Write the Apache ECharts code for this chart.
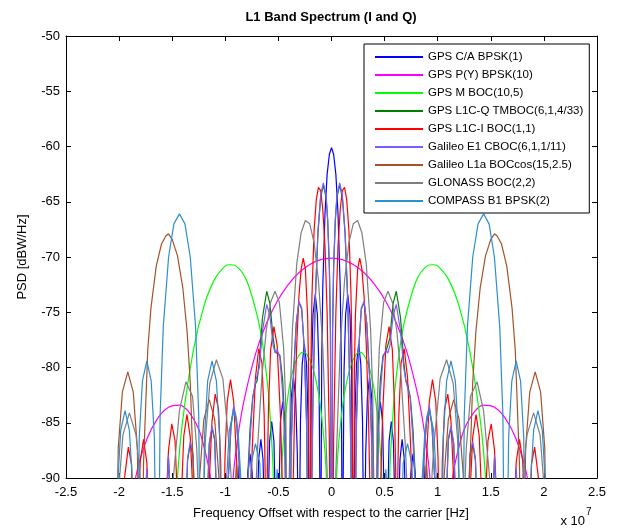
<!DOCTYPE html>
<html>
<head>
<meta charset="utf-8">
<script src="https://cdn.jsdelivr.net/npm/echarts@6/dist/echarts.min.js"></script>
<style>
html,body{margin:0;padding:0;background:#fff;}
#chart{width:617px;height:530px;}
</style>
</head>
<body>
<div id="chart"></div>
<script>
// Frequency offsets in MHz, PSD in dBW/Hz
const seriesNames = [
  'GPS C/A BPSK(1)',
  'GPS P(Y) BPSK(10)',
  'GPS M BOC(10,5)',
  'GPS L1C-Q TMBOC(6,1,4/33)',
  'GPS L1C-I BOC(1,1)',
  'Galileo E1 CBOC(6,1,1/11)',
  'Galileo L1a BOCcos(15,2.5)',
  'GLONASS BOC(2,2)',
  'COMPASS B1 BPSK(2)'
];

const gpsCA = [
  [-10.23,-100],[-9.72,-89.9],[-9.21,-100],[-8.7,-88.9],[-8.18,-100],[-7.88,-89.6],[-7.67,-87.8],[-7.47,-89.6],[-7.16,-100],
  [-6.86,-88.3],[-6.65,-86.5],[-6.45,-88.3],[-6.14,-100],[-5.83,-86.7],[-5.63,-84.9],[-5.42,-86.7],[-5.12,-100],
  [-4.81,-84.9],[-4.6,-83.1],[-4.4,-84.9],[-4.09,-100],[-3.94,-87.8],[-3.79,-82.7],[-3.58,-80.9],[-3.38,-82.7],[-3.22,-87.8],[-3.07,-100],
  [-2.92,-84.8],[-2.76,-79.7],[-2.56,-77.9],[-2.35,-79.7],[-2.2,-84.8],[-2.05,-100],
  [-1.89,-80.3],[-1.74,-75.2],[-1.53,-73.4],[-1.33,-75.2],[-1.18,-80.3],[-1.02,-100],
  [-0.92,-79.3],[-0.82,-72.7],[-0.61,-66.0],[-0.41,-62.5],[-0.2,-60.7],[0,-60.1],
  [0.2,-60.7],[0.41,-62.5],[0.61,-66.0],[0.82,-72.7],[0.92,-79.3],[1.02,-100],
  [1.18,-80.3],[1.33,-75.2],[1.53,-73.4],[1.74,-75.2],[1.89,-80.3],[2.05,-100],
  [2.2,-84.8],[2.35,-79.7],[2.56,-77.9],[2.76,-79.7],[2.92,-84.8],[3.07,-100],
  [3.22,-87.8],[3.38,-82.7],[3.58,-80.9],[3.79,-82.7],[3.94,-87.8],[4.09,-100],
  [4.4,-84.9],[4.6,-83.1],[4.81,-84.9],[5.12,-100],[5.42,-86.7],[5.63,-84.9],[5.83,-86.7],[6.14,-100],
  [6.45,-88.3],[6.65,-86.5],[6.86,-88.3],[7.16,-100],[7.47,-89.6],[7.67,-87.8],[7.88,-89.6],[8.18,-100],
  [8.7,-88.9],[9.21,-100],[9.72,-89.9],[10.23,-100]
];

const gpsPY = [
  [-20.46,-110],[-19.44,-95.8],[-18.41,-89.8],[-17.39,-86.5],[-16.37,-84.6],[-15.35,-83.6],[-14.32,-83.4],[-13.3,-84.2],
  [-12.28,-86.2],[-11.25,-91.1],[-10.23,-110],[-9.7,-95.7],[-9.2,-89.3],[-8.7,-85.5],[-8.18,-82.72],[-7.16,-78.79],
  [-6.14,-76.04],[-5.12,-74.02],[-4.09,-72.52],[-3.07,-71.43],[-2.05,-70.68],[-1.02,-70.24],[0,-70.1],
  [1.02,-70.24],[2.05,-70.68],[3.07,-71.43],[4.09,-72.52],[5.12,-74.02],[6.14,-76.04],[7.16,-78.79],[8.18,-82.72],
  [8.7,-85.5],[9.2,-89.3],[9.7,-95.7],[10.23,-110],[11.25,-91.1],[12.28,-86.2],[13.3,-84.2],[14.32,-83.4],
  [15.35,-83.6],[16.37,-84.6],[17.39,-86.5],[18.41,-89.8],[19.44,-95.8],[20.46,-110]
];

const gpsM = [
  [-15.35,-110],[-15,-99],[-14.5,-89.9],[-14,-84.7],[-13,-78.4],[-12,-74.4],[-11,-72.0],[-10,-70.8],[-9.6,-70.7],
  [-9,-70.8],[-8,-72.1],[-7,-75.3],[-6.5,-77.8],[-6,-81.7],[-5.8,-84.1],[-5.5,-89.3],[-5.12,-110],
  [-4.8,-91.6],[-4.5,-86.2],[-4,-81.9],[-3.5,-79.8],[-3,-78.8],[-2.6,-78.6],[-2,-79.4],[-1.5,-81.0],[-1,-83.8],[-0.5,-89.5],
  [0,-110],
  [0.5,-89.5],[1,-83.8],[1.5,-81.0],[2,-79.4],[2.6,-78.6],[3,-78.8],[3.5,-79.8],[4,-81.9],[4.5,-86.2],[4.8,-91.6],
  [5.12,-110],[5.5,-89.3],[5.8,-84.1],[6,-81.7],[6.5,-77.8],[7,-75.3],[8,-72.1],[9,-70.8],[9.6,-70.7],[10,-70.8],
  [11,-72.0],[12,-74.4],[13,-78.4],[14,-84.7],[14.5,-89.9],[15,-99],[15.35,-110]
];

const gpsL1CQ = [
  [-18.41,-110],[-17.39,-89.3],[-16.37,-110],[-15.35,-88.2],[-14.32,-110],[-13.55,-88.4],[-13.3,-86.9],[-13.04,-88.0],[-12.28,-110],
  [-11.51,-87.0],[-11.25,-85.5],[-11.0,-86.6],[-10.23,-110],[-9.72,-90.2],[-9.46,-85.3],[-9.21,-83.7],[-8.95,-84.8],[-8.7,-88.3],[-8.18,-110],
  [-7.9,-90.1],[-7.67,-85.6],[-7.42,-82.7],[-7.16,-81.5],[-7.0,-81.2],[-6.8,-79.4],[-6.5,-75.5],[-6.1,-73.1],[-5.8,-74.2],[-5.5,-77.3],
  [-5.3,-78.6],[-5.12,-78.6],[-4.86,-78.9],[-4.6,-81.1],[-4.4,-85.1],[-4.09,-110],
  [-3.79,-86.6],[-3.58,-80.6],[-3.32,-76.05],[-3.07,-74.1],[-2.81,-74.7],[-2.56,-78.3],[-2.35,-84.6],[-2.05,-110],
  [-1.89,-93.1],[-1.74,-82.4],[-1.53,-74.0],[-1.28,-67.9],[-1.02,-64.6],[-0.77,-63.5],[-0.51,-64.6],[-0.36,-66.7],[-0.2,-71.0],[-0.1,-76.8],
  [0,-110],
  [0.1,-76.8],[0.2,-71.0],[0.36,-66.7],[0.51,-64.6],[0.77,-63.5],[1.02,-64.6],[1.28,-67.9],[1.53,-74.0],[1.74,-82.4],[1.89,-93.1],
  [2.05,-110],[2.35,-84.6],[2.56,-78.3],[2.81,-74.7],[3.07,-74.1],[3.32,-76.05],[3.58,-80.6],[3.79,-86.6],[4.09,-110],
  [4.4,-85.1],[4.6,-81.1],[4.86,-78.9],[5.12,-78.6],[5.3,-78.6],[5.5,-77.3],[5.8,-74.2],[6.1,-73.1],[6.5,-75.5],[6.8,-79.4],
  [7.0,-81.2],[7.16,-81.5],[7.42,-82.7],[7.67,-85.6],[7.9,-90.1],[8.18,-110],
  [8.7,-88.3],[8.95,-84.8],[9.21,-83.7],[9.46,-85.3],[9.72,-90.2],[10.23,-110],
  [11.0,-86.6],[11.25,-85.5],[11.51,-87.0],[12.28,-110],[13.04,-88.0],[13.3,-86.9],[13.55,-88.4],[14.32,-110],
  [15.35,-88.2],[16.37,-110],[17.39,-89.3],[18.41,-110]
];

const gpsL1CI = [
  [-20.46,-110],[-20.0,-95],[-19.44,-89.6],[-19.13,-87.2],[-18.82,-88.8],[-18.41,-110],
  [-18.2,-93],[-18.0,-88.4],[-17.7,-86.5],[-17.39,-88.6],[-16.37,-110],
  [-15.65,-94],[-15.35,-87.5],[-15.04,-85.1],[-14.73,-86.65],[-14.53,-91.5],[-14.32,-110],
  [-14.12,-91.2],[-13.91,-86.2],[-13.61,-84.25],[-13.3,-86.3],[-12.99,-92.4],[-12.28,-110],
  [-11.56,-91.3],[-11.25,-84.85],[-10.95,-82.4],[-10.64,-83.8],[-10.43,-88.6],[-10.23,-110],
  [-10.13,-94],[-10.03,-88.2],[-9.82,-83.1],[-9.51,-81.1],[-9.21,-83.1],[-8.9,-89.1],[-8.18,-110],
  [-7.67,-95],[-7.47,-87.5],[-7.16,-80.9],[-6.85,-78.3],[-6.55,-79.6],[-6.34,-84.3],[-6.24,-89.9],[-6.14,-110],
  [-6.04,-89.3],[-5.93,-83.5],[-5.73,-78.4],[-5.42,-76.3],[-5.12,-78.0],[-4.81,-84.3],[-4.6,-91.5],[-4.09,-110],
  [-3.68,-94],[-3.48,-84.2],[-3.27,-77.8],[-3.07,-73.6],[-2.86,-71.1],[-2.66,-70.1],[-2.46,-71.1],[-2.25,-75.3],[-2.15,-80.6],[-2.05,-110],
  [-1.94,-79.7],[-1.84,-73.5],[-1.64,-67.6],[-1.43,-64.8],[-1.23,-63.7],[-1.02,-64.0],[-0.82,-65.7],[-0.61,-69.1],[-0.41,-75.1],[-0.205,-86.4],
  [0,-110],
  [0.205,-86.4],[0.41,-75.1],[0.61,-69.1],[0.82,-65.7],[1.02,-64.0],[1.23,-63.7],[1.43,-64.8],[1.64,-67.6],[1.84,-73.5],[1.94,-79.7],[2.05,-110],
  [2.15,-80.6],[2.25,-75.3],[2.46,-71.1],[2.66,-70.1],[2.86,-71.1],[3.07,-73.6],[3.27,-77.8],[3.48,-84.2],[3.68,-94],[4.09,-110],
  [4.6,-91.5],[4.81,-84.3],[5.12,-78.0],[5.42,-76.3],[5.73,-78.4],[5.93,-83.5],[6.04,-89.3],[6.14,-110],
  [6.24,-89.9],[6.34,-84.3],[6.55,-79.6],[6.85,-78.3],[7.16,-80.9],[7.47,-87.5],[7.67,-95],[8.18,-110],
  [8.9,-89.1],[9.21,-83.1],[9.51,-81.1],[9.82,-83.1],[10.03,-88.2],[10.13,-94],[10.23,-110],
  [10.43,-88.6],[10.64,-83.8],[10.95,-82.4],[11.25,-84.85],[11.56,-91.3],[12.28,-110],
  [12.99,-92.4],[13.3,-86.3],[13.61,-84.25],[13.91,-86.2],[14.12,-91.2],[14.32,-110],
  [14.53,-91.5],[14.73,-86.65],[15.04,-85.1],[15.35,-87.5],[15.65,-94],[16.37,-110],
  [17.39,-88.6],[17.7,-86.5],[18.0,-88.4],[18.2,-93],[18.41,-110],
  [18.82,-88.8],[19.13,-87.2],[19.44,-89.6],[20.0,-95],[20.46,-110]
];

const galE1 = [
  [-18.41,-110],[-17.39,-89.1],[-16.37,-110],[-15.35,-88.0],[-14.32,-110],[-13.55,-88.2],[-13.3,-86.7],[-13.04,-87.8],[-12.28,-110],
  [-11.51,-86.8],[-11.25,-85.3],[-11.0,-86.4],[-10.23,-110],[-9.72,-90],[-9.46,-85.1],[-9.21,-83.5],[-8.95,-84.6],[-8.7,-88.6],[-8.18,-110],
  [-7.9,-91],[-7.67,-86.6],[-7.42,-82.8],[-7.16,-81.3],[-7.0,-81.2],[-6.8,-80.0],[-6.5,-76.7],[-6.1,-74.3],[-5.8,-75.3],[-5.5,-78.0],
  [-5.3,-78.7],[-5.12,-78.4],[-4.86,-79.1],[-4.6,-82.3],[-4.4,-87.0],[-4.09,-110],
  [-3.79,-87.3],[-3.58,-80.9],[-3.32,-76.0],[-3.07,-74.0],[-2.81,-74.6],[-2.56,-78.4],[-2.35,-85.2],[-2.05,-110],
  [-1.89,-93.5],[-1.74,-82.6],[-1.53,-73.9],[-1.28,-67.75],[-1.02,-64.4],[-0.77,-63.3],[-0.51,-64.4],[-0.36,-66.6],[-0.2,-70.85],[-0.1,-76.7],
  [0,-110],
  [0.1,-76.7],[0.2,-70.85],[0.36,-66.6],[0.51,-64.4],[0.77,-63.3],[1.02,-64.4],[1.28,-67.75],[1.53,-73.9],[1.74,-82.6],[1.89,-93.5],
  [2.05,-110],[2.35,-85.2],[2.56,-78.4],[2.81,-74.6],[3.07,-74.0],[3.32,-76.0],[3.58,-80.9],[3.79,-87.3],[4.09,-110],
  [4.4,-87.0],[4.6,-82.3],[4.86,-79.1],[5.12,-78.4],[5.3,-78.7],[5.5,-78.0],[5.8,-75.3],[6.1,-74.3],[6.5,-76.7],[6.8,-80.0],
  [7.0,-81.2],[7.16,-81.3],[7.42,-82.8],[7.67,-86.6],[7.9,-91],[8.18,-110],
  [8.7,-88.6],[8.95,-84.6],[9.21,-83.5],[9.46,-85.1],[9.72,-90],[10.23,-110],
  [11.0,-86.4],[11.25,-85.3],[11.51,-86.8],[12.28,-110],[13.04,-87.8],[13.3,-86.7],[13.55,-88.2],[14.32,-110],
  [15.35,-88.0],[16.37,-110],[17.39,-89.1],[18.41,-110]
];

const galL1a = [
  [-20.46,-110],[-20.08,-87.3],[-19.69,-82.2],[-19.18,-80.4],[-18.67,-82.2],[-18.28,-87.3],[-17.9,-110],
  [-17.7,-88.7],[-17.3,-78.4],[-17.0,-74.6],[-16.5,-70.8],[-16.0,-68.8],[-15.6,-68.1],[-15.35,-67.9],[-15.0,-68.4],
  [-14.5,-69.9],[-14.0,-72.8],[-13.6,-76.7],[-13.3,-81.3],[-13.0,-89.8],[-12.79,-110],
  [-12.41,-89.8],[-12.02,-84.7],[-11.51,-82.9],[-11.0,-84.7],[-10.61,-89.8],[-10.23,-110],
  [-8.95,-88.7],[-7.67,-110],
  [7.67,-110],[8.95,-88.7],[10.23,-110],
  [10.61,-89.8],[11.0,-84.7],[11.51,-82.9],[12.02,-84.7],[12.41,-89.8],[12.79,-110],
  [13.0,-89.8],[13.3,-81.3],[13.6,-76.7],[14.0,-72.8],[14.5,-69.9],[15.0,-68.4],[15.35,-67.9],[15.6,-68.1],
  [16.0,-68.8],[16.5,-70.8],[17.0,-74.6],[17.3,-78.4],[17.7,-88.7],[17.9,-110],
  [18.28,-87.3],[18.67,-82.2],[19.18,-80.4],[19.69,-82.2],[20.08,-87.3],[20.46,-110]
];

const glonass = [
  [-20.46,-110],[-20.05,-91.2],[-19.64,-86.1],[-19.03,-84.1],[-18.41,-86.1],[-17.8,-92.1],[-16.37,-110],
  [-14.94,-90.5],[-14.32,-83.9],[-13.71,-81.3],[-13.09,-82.6],[-12.69,-87.3],[-12.48,-92.9],[-12.28,-110],
  [-12.07,-92.3],[-11.87,-86.5],[-11.46,-81.45],[-10.84,-79.3],[-10.23,-81.0],[-9.62,-87.3],[-8.18,-110],
  [-7.37,-97],[-6.96,-87.2],[-6.55,-80.8],[-6.14,-76.6],[-5.73,-74.1],[-5.32,-73.1],[-4.91,-74.1],[-4.5,-78.3],[-4.3,-83.6],[-4.09,-110],
  [-3.89,-82.7],[-3.68,-76.5],[-3.27,-70.6],[-2.86,-67.8],[-2.46,-66.7],[-2.05,-67.0],[-1.64,-68.7],[-1.23,-72.1],[-0.82,-78.1],[-0.41,-89.4],
  [0,-110],
  [0.41,-89.4],[0.82,-78.1],[1.23,-72.1],[1.64,-68.7],[2.05,-67.0],[2.46,-66.7],[2.86,-67.8],[3.27,-70.6],[3.68,-76.5],[3.89,-82.7],[4.09,-110],
  [4.3,-83.6],[4.5,-78.3],[4.91,-74.1],[5.32,-73.1],[5.73,-74.1],[6.14,-76.6],[6.55,-80.8],[6.96,-87.2],[7.37,-97],[8.18,-110],
  [9.62,-87.3],[10.23,-81.0],[10.84,-79.3],[11.46,-81.45],[11.87,-86.5],[12.07,-92.3],[12.28,-110],
  [12.48,-92.9],[12.69,-87.3],[13.09,-82.6],[13.71,-81.3],[14.32,-83.9],[14.94,-90.5],[16.37,-110],
  [17.8,-92.1],[18.41,-86.1],[19.03,-84.1],[19.64,-86.1],[20.05,-91.2],[20.46,-110]
];

const compass = [
  [-20.46,-110],[-20.15,-90.8],[-19.85,-85.7],[-19.44,-83.9],[-19.03,-85.7],[-18.72,-90.8],[-18.41,-110],
  [-18.1,-86.3],[-17.8,-81.2],[-17.39,-79.4],[-16.98,-81.2],[-16.68,-86.3],[-16.37,-110],
  [-16.14,-84.4],[-15.84,-76.3],[-15.34,-70.0],[-14.84,-67.0],[-14.32,-66.1],[-13.8,-67.0],[-13.3,-70.0],[-12.8,-76.3],[-12.5,-84.4],[-12.27,-110],
  [-11.96,-86.3],[-11.66,-81.2],[-11.25,-79.4],[-10.84,-81.2],[-10.53,-86.3],[-10.23,-110],
  [-9.92,-90.8],[-9.62,-85.7],[-9.21,-83.9],[-8.8,-85.7],[-8.49,-90.8],[-8.18,-110],
  [-7.57,-88.7],[-7.16,-86.9],[-6.75,-88.7],[-6.14,-110],[-5.12,-89.2],[-4.09,-110],
  [0,-110],
  [4.09,-110],[5.12,-89.2],[6.14,-110],[6.75,-88.7],[7.16,-86.9],[7.57,-88.7],[8.18,-110],
  [8.49,-90.8],[8.8,-85.7],[9.21,-83.9],[9.62,-85.7],[9.92,-90.8],[10.23,-110],
  [10.53,-86.3],[10.84,-81.2],[11.25,-79.4],[11.66,-81.2],[11.96,-86.3],[12.27,-110],
  [12.5,-84.4],[12.8,-76.3],[13.3,-70.0],[13.8,-67.0],[14.32,-66.1],[14.84,-67.0],[15.34,-70.0],[15.84,-76.3],[16.14,-84.4],[16.37,-110],
  [16.68,-86.3],[16.98,-81.2],[17.39,-79.4],[17.8,-81.2],[18.1,-86.3],[18.41,-110],
  [18.72,-90.8],[19.03,-85.7],[19.44,-83.9],[19.85,-85.7],[20.15,-90.8],[20.46,-110]
];

const seriesData = [gpsCA, gpsPY, gpsM, gpsL1CQ, gpsL1CI, galE1, galL1a, glonass, compass];
const seriesColors = ['#0000FF','#FF00FF','#00FF00','#008000','#FF0000','#7B5CFF','#A5522A','#7F7F7F','#2B8FD0'];
const seriesSmooth = [false, 0.3, 0.3, false, false, false, false, false, false];

const FONT = '"Liberation Sans", Arial, Helvetica, sans-serif';

const chart = echarts.init(document.getElementById('chart'), null, {renderer:'canvas'});

const axisCommon = {
  axisLine:{show:true, onZero:false, lineStyle:{color:'#000', width:1}},
  axisTick:{show:true, inside:true, length:5, lineStyle:{color:'#000', width:1}},
  splitLine:{show:false}
};

chart.setOption({
  animation:false,
  backgroundColor:'#fff',
  grid:{left:66, right:20, top:36, bottom:52, containLabel:false},
  xAxis:[
    Object.assign({type:'value', position:'bottom', min:-25, max:25, interval:5,
      axisLabel:{color:'#000', fontSize:13, fontFamily:FONT, margin:8, formatter:v => String(v/10)}}, axisCommon),
    Object.assign({type:'value', position:'top', min:-25, max:25, interval:5,
      axisLabel:{show:false}}, axisCommon)
  ],
  yAxis:[
    Object.assign({type:'value', position:'left', min:-90, max:-50, interval:5,
      axisLabel:{color:'#000', fontSize:13, fontFamily:FONT, margin:6}}, axisCommon),
    Object.assign({type:'value', position:'right', min:-90, max:-50, interval:5,
      axisLabel:{show:false}}, axisCommon)
  ],
  legend:{
    orient:'vertical', left:364, top:44,
    padding:[7,6,6,11],
    backgroundColor:'#fff', borderColor:'#000', borderWidth:1,
    itemWidth:48, itemHeight:2, itemGap:6, icon:'rect',
    selectedMode:false,
    textStyle:{fontSize:11.5, lineHeight:12, fontFamily:FONT, color:'#000'},
    data:seriesNames
  },
  graphic:[
    {type:'text', x:331, y:17, style:{text:'L1 Band Spectrum (I and Q)', font:'bold 13px ' + FONT, fill:'#000', align:'center', verticalAlign:'middle'}},
    {type:'text', x:331, y:513, style:{text:'Frequency Offset with respect to the carrier [Hz]', font:'13px ' + FONT, fill:'#000', align:'center', verticalAlign:'middle'}},
    {type:'text', x:22, y:257, rotation:Math.PI/2, style:{text:'PSD [dBW/Hz]', font:'13px ' + FONT, fill:'#000', align:'center', verticalAlign:'middle'}},
    {type:'text', x:585, y:521, style:{text:'x 10', font:'13px ' + FONT, fill:'#000', align:'right', verticalAlign:'middle'}},
    {type:'text', x:586, y:512, style:{text:'7', font:'10px ' + FONT, fill:'#000', align:'left', verticalAlign:'middle'}}
  ],
  series: seriesNames.map((name, i) => ({
    name: name,
    type:'line',
    data: seriesData[i],
    xAxisIndex:0, yAxisIndex:0,
    showSymbol:false, symbol:'none',
    smooth: seriesSmooth[i],
    clip:true,
    lineStyle:{color:seriesColors[i], width:1.2},
    itemStyle:{color:seriesColors[i]},
    emphasis:{disabled:true}
  }))
});
</script>
</body>
</html>
